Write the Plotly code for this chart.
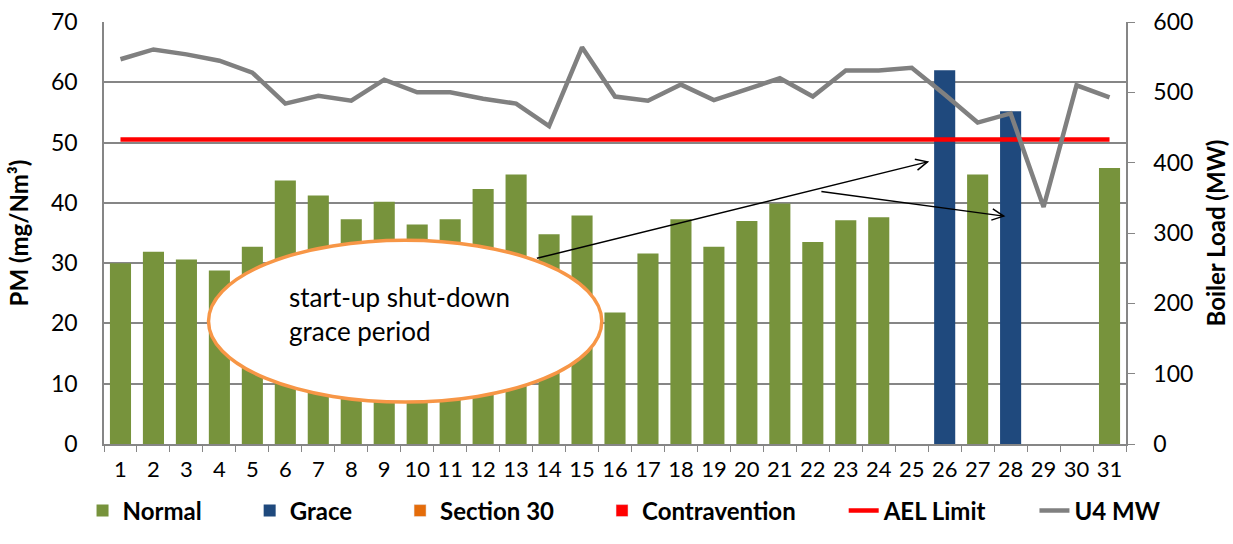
import plotly.graph_objects as go
import math

days = list(range(1, 32))
day_labels = [str(d) for d in days]

normal_pm = [30.0, 31.9, 30.6, 28.8, 32.7, 43.7, 41.2, 37.3, 40.2, 36.4,
             37.3, 42.3, 44.7, 34.8, 37.9, 21.8, 31.6, 37.3, 32.7, 37.0,
             39.9, 33.5, 37.1, 37.6, None, None, 44.7, None, None, None, 45.8]
grace_pm = [None] * 25 + [62.0, None, 55.2, None, None, None]
ael_limit = [50.5] * 31
u4_mw = [547, 561, 554, 545, 528, 484, 495, 488, 518, 500,
         500, 491, 484, 452, 564, 494, 488, 511, 489, 504,
         520, 494, 531, 531, 535, 497, 457, 470, 337, 510, 493]

FONT = "Lato"
GREEN = "#77933C"
BLUE = "#1F497D"
ORANGE = "#E46C0A"
RED = "#FF0000"
GREY = "#808080"
NB = "\u00a0" * 7

fig = go.Figure()
fig.add_trace(go.Bar(x=days, y=normal_pm, name="Normal", marker_color=GREEN,
                     width=0.64, marker_line_width=0))
fig.add_trace(go.Bar(x=days, y=grace_pm, name="Grace", marker_color=BLUE,
                     width=0.64, marker_line_width=0))
fig.add_trace(go.Bar(x=days, y=[None] * 31, name="Section 30", marker_color=ORANGE,
                     width=0.64))
fig.add_trace(go.Bar(x=days, y=[None] * 31, name="Contravention", marker_color=RED,
                     width=0.64))
fig.add_trace(go.Scatter(x=days, y=ael_limit, name="AEL Limit", mode="lines",
                         line=dict(color=RED, width=4.5)))
fig.add_trace(go.Scatter(x=days, y=u4_mw, name="U4 MW", mode="lines", yaxis="y2",
                         line=dict(color=GREY, width=4.5)))

shapes = []
# callout ellipse
shapes.append(dict(type="circle", xref="x", yref="y", x0=3.67, x1=15.6, y0=6.95, y1=33.8,
                   fillcolor="white", line=dict(color="#F79646", width=3.5), layer="above"))

# arrows (tail -> head) in data coords
arrows = [((13.63, 30.8), (25.48, 46.8)), ((22.26, 41.9), (27.79, 37.8))]
PX_X, PX_Y = 33.0, 6.043
for (tx, ty), (hx, hy) in arrows:
    shapes.append(dict(type="line", xref="x", yref="y", x0=tx, y0=ty, x1=hx, y1=hy,
                       line=dict(color="black", width=1.5), layer="above"))
    dx, dy = (hx - tx) * PX_X, (hy - ty) * PX_Y
    ang = math.atan2(dy, dx)
    L = 13
    pts = []
    for s in (1, -1):
        a = ang + math.pi + s * 0.45
        pts.append((L * math.cos(a), L * math.sin(a)))
    path = f"M{pts[0][0]:.2f},{pts[0][1]:.2f} L0,0 L{pts[1][0]:.2f},{pts[1][1]:.2f}"
    shapes.append(dict(type="path", xref="x", yref="y", xsizemode="pixel", ysizemode="pixel",
                       xanchor=hx, yanchor=hy, path=path,
                       line=dict(color="black", width=1.5), layer="above"))

fig.update_layout(
    width=1233, height=544,
    margin=dict(l=104, r=107, t=22, b=99),
    paper_bgcolor="white", plot_bgcolor="white",
    barmode="overlay",
    font=dict(family=FONT, size=22, color="black"),
    shapes=shapes,
    annotations=[dict(x=6.06, y=21.5, xref="x", yref="y", xanchor="left", yanchor="middle",
                      align="left", showarrow=False,
                      text="start-up shut-down<br>grace period",
                      font=dict(family=FONT, size=26, color="black"))],
    xaxis=dict(range=[0.5, 31.5], tickmode="array", tickvals=days, ticktext=day_labels,
               ticks="", showgrid=False, showline=True, linecolor="#868686", linewidth=1.5,
               tickfont=dict(size=22), automargin=False, ticklabelstandoff=5,
               minor=dict(tickmode="array", tickvals=[d + 0.5 for d in range(0, 32)],
                          ticks="outside", ticklen=6, tickcolor="#868686", showgrid=False)),
    yaxis=dict(range=[0, 70], dtick=10, showgrid=True, gridcolor="#868686", gridwidth=1.5,
               showline=True, linecolor="#868686", linewidth=1.5, zeroline=False,
               ticks="", tickfont=dict(size=23), automargin=False, ticklabelstandoff=20,
               title=dict(text="<b>PM (mg/Nm³)</b>", font=dict(size=24), standoff=16)),
    yaxis2=dict(range=[0, 600], dtick=100, overlaying="y", side="right", showgrid=False,
                showline=True, linecolor="#868686", linewidth=1.5, zeroline=False,
                ticks="outside", ticklen=7, tickcolor="#868686", tickfont=dict(size=23),
                automargin=False, ticklabelstandoff=14,
                title=dict(text="<b>Boiler Load (MW)</b>", font=dict(size=24), standoff=16)),
    legend=dict(orientation="h", x=-0.021, xanchor="left",
                y=-0.156, yanchor="middle",
                font=dict(size=24, color="black"), traceorder="normal",
                itemwidth=30, tracegroupgap=0),
    showlegend=True,
)
# bold legend labels with a little trailing space
for tr in fig.data:
    tr.name = f"<b>{tr.name}</b>{NB}"

fig.write_html("out.html", config={"displayModeBar": False},
               post_script="document.body.style.margin='0';")
